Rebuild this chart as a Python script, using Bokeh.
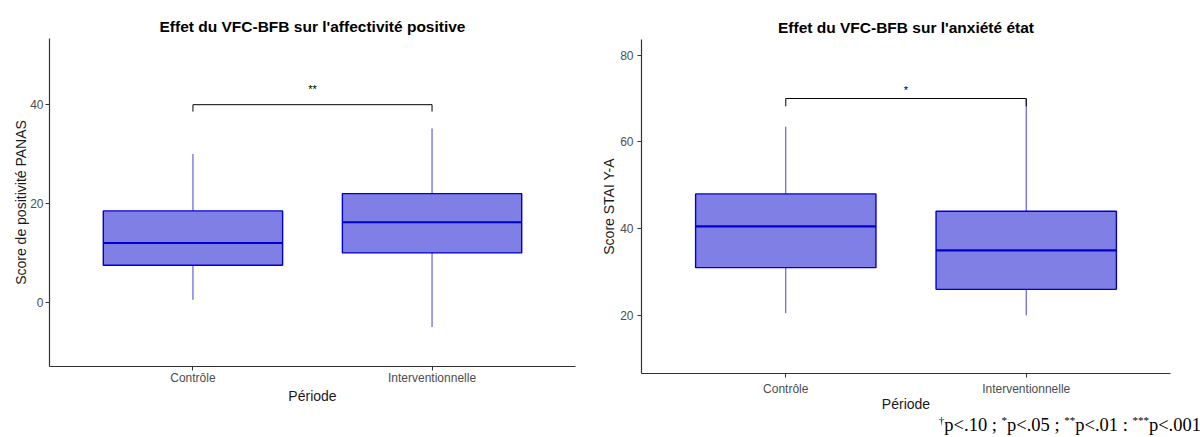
from bokeh.plotting import figure
from bokeh.models import FactorRange, Range1d, FixedTicker, Label, Div
from bokeh.layouts import row, column
from bokeh.embed import file_html
from bokeh.resources import INLINE

# ---------------- data ----------------
categories = ["Contrôle", "Interventionnelle"]

panas_low = [0.5, -5.0]
panas_q1 = [7.5, 10.0]
panas_med = [12.0, 16.2]
panas_q3 = [18.5, 22.0]
panas_high = [30.0, 35.2]
panas_ticks = [0, 20, 40]
panas_sig = "**"
panas_bracket = 40.0

stai_low = [20.5, 20.0]
stai_q1 = [31.0, 26.0]
stai_med = [40.5, 35.0]
stai_q3 = [48.0, 44.0]
stai_high = [63.5, 70.0]
stai_ticks = [20, 40, 60, 80]
stai_sig = "*"
stai_bracket = 70.0

footnote_marks = ["†", "*", "**", "***"]
footnote_texts = ["p&lt;.10 ; ", "p&lt;.05 ; ", "p&lt;.01 : ", "p&lt;.001"]

SANS = "Liberation Sans"
SERIF = "Liberation Serif"
BLUE = "#0000CD"


def panel(title, ylabel, low, q1, med, q3, high, ticks, yr, sig, bracket, drop, star_gap,
          fw, fh, b_left, b_top, b_right, b_bottom, title_stand,
          x_s1, x_s2, y_s1, y_s2):
    p = figure(x_range=FactorRange(factors=categories, range_padding=0.1,
                                   range_padding_units="absolute"),
               y_range=Range1d(*yr),
               width=b_left + fw + b_right, height=b_top + fh + b_bottom,
               frame_width=fw, frame_height=fh,
               output_backend="svg", toolbar_location=None,
               min_border_left=b_left, min_border_right=b_right,
               min_border_top=b_top, min_border_bottom=b_bottom)
    p.outline_line_color = None
    p.xgrid.visible = False
    p.ygrid.visible = False
    p.background_fill_color = "white"
    p.border_fill_color = "white"

    p.title.text = title
    p.title.align = "center"
    p.title.text_font = SANS
    p.title.text_font_size = "15.5px"
    p.title.text_font_style = "bold"
    p.title.text_color = "black"
    p.title.standoff = title_stand

    for ax in (p.xaxis[0], p.yaxis[0]):
        ax.axis_line_color = "#333333"
        ax.axis_line_width = 1.2
        ax.major_tick_line_color = "#333333"
        ax.major_tick_out = 4
        ax.major_tick_in = 0
        ax.minor_tick_line_color = None
        ax.major_label_text_font = SANS
        ax.major_label_text_font_size = "12px"
        ax.major_label_text_color = "#4D4D4D"
        ax.axis_label_text_font = SANS
        ax.axis_label_text_font_size = "14px"
        ax.axis_label_text_font_style = "normal"
        ax.axis_label_text_color = "#1a1a1a"
    p.xaxis.axis_label = "Période"
    p.yaxis.axis_label = ylabel
    p.yaxis.ticker = FixedTicker(ticks=ticks)
    p.yaxis.major_label_standoff = y_s1
    p.yaxis.axis_label_standoff = y_s2
    p.xaxis.major_label_standoff = x_s1
    p.xaxis.axis_label_standoff = x_s2

    # whiskers
    p.segment(x0=categories, y0=q3, x1=categories, y1=high, line_color=BLUE,
              line_width=1, line_alpha=0.75)
    p.segment(x0=categories, y0=q1, x1=categories, y1=low, line_color=BLUE,
              line_width=1, line_alpha=0.75)
    # boxes
    p.vbar(x=categories, width=0.75, bottom=q1, top=q3, fill_color=BLUE,
           fill_alpha=0.5, line_color=BLUE, line_width=1.4)
    # medians
    p.vbar(x=categories, width=0.75, bottom=med, top=med, fill_color=None,
           line_color=BLUE, line_width=2.2)

    # significance bracket
    p.line(x=categories, y=[bracket, bracket], line_color="black", line_width=1)
    p.segment(x0=categories, y0=[bracket] * 2, x1=categories,
              y1=[bracket - drop] * 2, line_color="black", line_width=1)
    p.add_layout(Label(x=len(categories) / 2, y=bracket + star_gap, text=sig,
                       text_align="center", text_baseline="middle",
                       text_font=SANS, text_font_size="11px", text_color="black"))
    return p


p1 = panel("Effet du VFC-BFB sur l'affectivité positive", "Score de positivité PANAS",
           panas_low, panas_q1, panas_med, panas_q3, panas_high, panas_ticks,
           (-13.0, 53.4), panas_sig, panas_bracket, 1.4, 3.2,
           526, 328, 49, 38, 23, 50, 7,
           0, 0, 2, -2)

p2 = panel("Effet du VFC-BFB sur l'anxiété état", "Score STAI Y-A",
           stai_low, stai_q1, stai_med, stai_q3, stai_high, stai_ticks,
           (6.6, 83.6), stai_sig, stai_bracket, 1.8, 1.9,
           529, 334, 41, 39, 32, 46, 8,
           4, -3, 4, 0)

# footnote (Times-like, with superscript marks) under the right panel
sup_style = "font-size:11px;line-height:0;vertical-align:7px;"
html = "".join(f'<sup style="{sup_style}">{m}</sup>{t}'
               for m, t in zip(footnote_marks, footnote_texts))
foot = Div(text=(f'<div style="position:relative;top:-8px;width:{p2.width - 4}px;'
                 f'text-align:right;white-space:nowrap;font-family:\'{SERIF}\';'
                 f'font-size:18.5px;line-height:18px;color:black;">{html}</div>'),
           width=p2.width, height=437 - p2.height)

layout = row(p1, column(p2, foot, spacing=0), spacing=0)
open("out.html", "w").write(file_html(layout, INLINE))
